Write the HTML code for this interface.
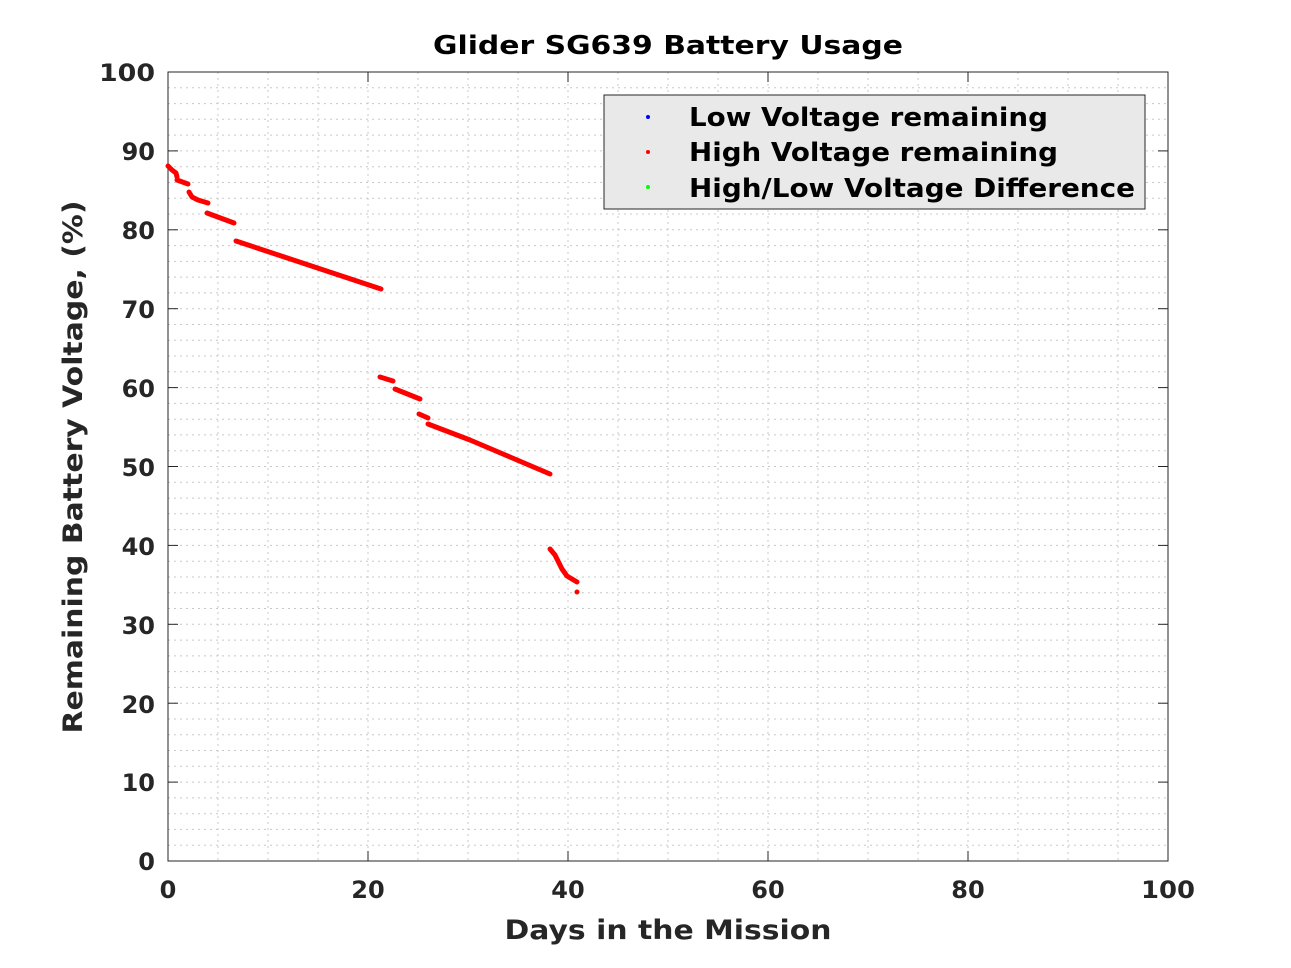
<!DOCTYPE html>
<html><head><style>body{margin:0;background:#fff}svg{display:block}</style></head><body>
<svg width="1291" height="968" xmlns="http://www.w3.org/2000/svg" font-family="DejaVu Sans, Liberation Sans, sans-serif">
<rect x="168" y="72" width="1000" height="789" fill="#fff"/>
<g stroke="#c8c8c8" stroke-width="1" stroke-dasharray="2,4">
<g id="h">
<line x1="168" x2="1168" y1="87.8" y2="87.8"/><line x1="168" x2="1168" y1="103.6" y2="103.6"/><line x1="168" x2="1168" y1="119.3" y2="119.3"/><line x1="168" x2="1168" y1="135.1" y2="135.1"/>
<line x1="168" x2="1168" y1="150.9" y2="150.9"/>
</g>
<use href="#h" y="78.9"/><use href="#h" y="157.8"/><use href="#h" y="236.7"/><use href="#h" y="315.6"/><use href="#h" y="394.5"/><use href="#h" y="473.4"/><use href="#h" y="552.3"/><use href="#h" y="631.2"/><use href="#h" y="710.1"/>
<line x1="218" x2="218" y1="72" y2="861"/><line x1="268" x2="268" y1="72" y2="861"/><line x1="318" x2="318" y1="72" y2="861"/><line x1="368" x2="368" y1="72" y2="861"/>
<line x1="418" x2="418" y1="72" y2="861"/><line x1="468" x2="468" y1="72" y2="861"/><line x1="518" x2="518" y1="72" y2="861"/><line x1="568" x2="568" y1="72" y2="861"/>
<line x1="618" x2="618" y1="72" y2="861"/><line x1="668" x2="668" y1="72" y2="861"/><line x1="718" x2="718" y1="72" y2="861"/><line x1="768" x2="768" y1="72" y2="861"/>
<line x1="818" x2="818" y1="72" y2="861"/><line x1="868" x2="868" y1="72" y2="861"/><line x1="918" x2="918" y1="72" y2="861"/><line x1="968" x2="968" y1="72" y2="861"/>
<line x1="1018" x2="1018" y1="72" y2="861"/><line x1="1068" x2="1068" y1="72" y2="861"/><line x1="1118" x2="1118" y1="72" y2="861"/>
</g>
<rect x="168" y="72" width="1000" height="789" fill="none" stroke="#262626" stroke-width="1"/>
<g stroke="#262626" stroke-width="1">
<line x1="168" x2="178" y1="150.9" y2="150.9"/><line x1="168" x2="178" y1="229.8" y2="229.8"/><line x1="168" x2="178" y1="308.7" y2="308.7"/><line x1="168" x2="178" y1="387.6" y2="387.6"/><line x1="168" x2="178" y1="466.5" y2="466.5"/><line x1="168" x2="178" y1="545.4" y2="545.4"/><line x1="168" x2="178" y1="624.3" y2="624.3"/><line x1="168" x2="178" y1="703.2" y2="703.2"/><line x1="168" x2="178" y1="782.1" y2="782.1"/>
<line x1="1158" x2="1168" y1="150.9" y2="150.9"/><line x1="1158" x2="1168" y1="229.8" y2="229.8"/><line x1="1158" x2="1168" y1="308.7" y2="308.7"/><line x1="1158" x2="1168" y1="387.6" y2="387.6"/><line x1="1158" x2="1168" y1="466.5" y2="466.5"/><line x1="1158" x2="1168" y1="545.4" y2="545.4"/><line x1="1158" x2="1168" y1="624.3" y2="624.3"/><line x1="1158" x2="1168" y1="703.2" y2="703.2"/><line x1="1158" x2="1168" y1="782.1" y2="782.1"/>
<line x1="368" x2="368" y1="861" y2="851"/><line x1="568" x2="568" y1="861" y2="851"/><line x1="768" x2="768" y1="861" y2="851"/><line x1="968" x2="968" y1="861" y2="851"/>
<line x1="368" x2="368" y1="72" y2="82"/><line x1="568" x2="568" y1="72" y2="82"/><line x1="768" x2="768" y1="72" y2="82"/><line x1="968" x2="968" y1="72" y2="82"/>
</g>
<g stroke="#f00" stroke-width="5" fill="none" stroke-linecap="round" stroke-linejoin="round">
<polyline points="168,166 172,170 176,173 177,177"/>
<polyline points="177,180 188,184"/>
<polyline points="189,192 192,197 198,200 208,203"/>
<polyline points="207,213 234,223"/>
<polyline points="236,241 381,289"/>
<polyline points="380,377 393,381"/>
<polyline points="395,389 420,399"/>
<polyline points="419,414 428,418"/>
<polyline points="428,424 470,440 510,457 550,474"/>
<polyline points="550,549 555,555 562,569 567,576 577,582"/>
</g>
<circle cx="577" cy="592" r="2.5" fill="#f00"/>
<g font-size="24" font-weight="bold" fill="#262626" text-anchor="end">
<text x="155" y="81" textLength="56" lengthAdjust="spacingAndGlyphs">100</text><text x="155" y="160">90</text><text x="155" y="239">80</text><text x="155" y="318">70</text><text x="155" y="397">60</text><text x="155" y="476">50</text><text x="155" y="555">40</text><text x="155" y="634">30</text><text x="155" y="713">20</text><text x="155" y="791">10</text><text x="155" y="870">0</text>
</g>
<g font-size="24" font-weight="bold" fill="#262626" text-anchor="middle">
<text x="168" y="898">0</text><text x="368" y="898">20</text><text x="568" y="898">40</text><text x="768" y="898">60</text><text x="968" y="898">80</text><text x="1168" y="898" textLength="54" lengthAdjust="spacingAndGlyphs">100</text>
<text x="668" y="939" font-size="27" textLength="327" lengthAdjust="spacingAndGlyphs">Days in the Mission</text>
<text x="668" y="54" font-size="26" fill="#000" textLength="470" lengthAdjust="spacingAndGlyphs">Glider SG639 Battery Usage</text>
<text transform="translate(82,467) rotate(-90)" font-size="27" textLength="533" lengthAdjust="spacingAndGlyphs">Remaining Battery Voltage, (%)</text>
</g>
<rect x="604" y="95" width="541" height="114" fill="#e9e9e9" stroke="#262626" stroke-width="1"/>
<circle cx="648" cy="117" r="2" fill="#00f"/><circle cx="648" cy="152" r="2" fill="#f00"/><circle cx="648" cy="187" r="2" fill="#0f0"/>
<g font-size="26" font-weight="bold" fill="#000">
<text x="689" y="126" textLength="359" lengthAdjust="spacingAndGlyphs">Low Voltage remaining</text><text x="689" y="161" textLength="369" lengthAdjust="spacingAndGlyphs">High Voltage remaining</text><text x="689" y="197" textLength="446" lengthAdjust="spacingAndGlyphs">High/Low Voltage Difference</text>
</g>
</svg>
</body></html>
